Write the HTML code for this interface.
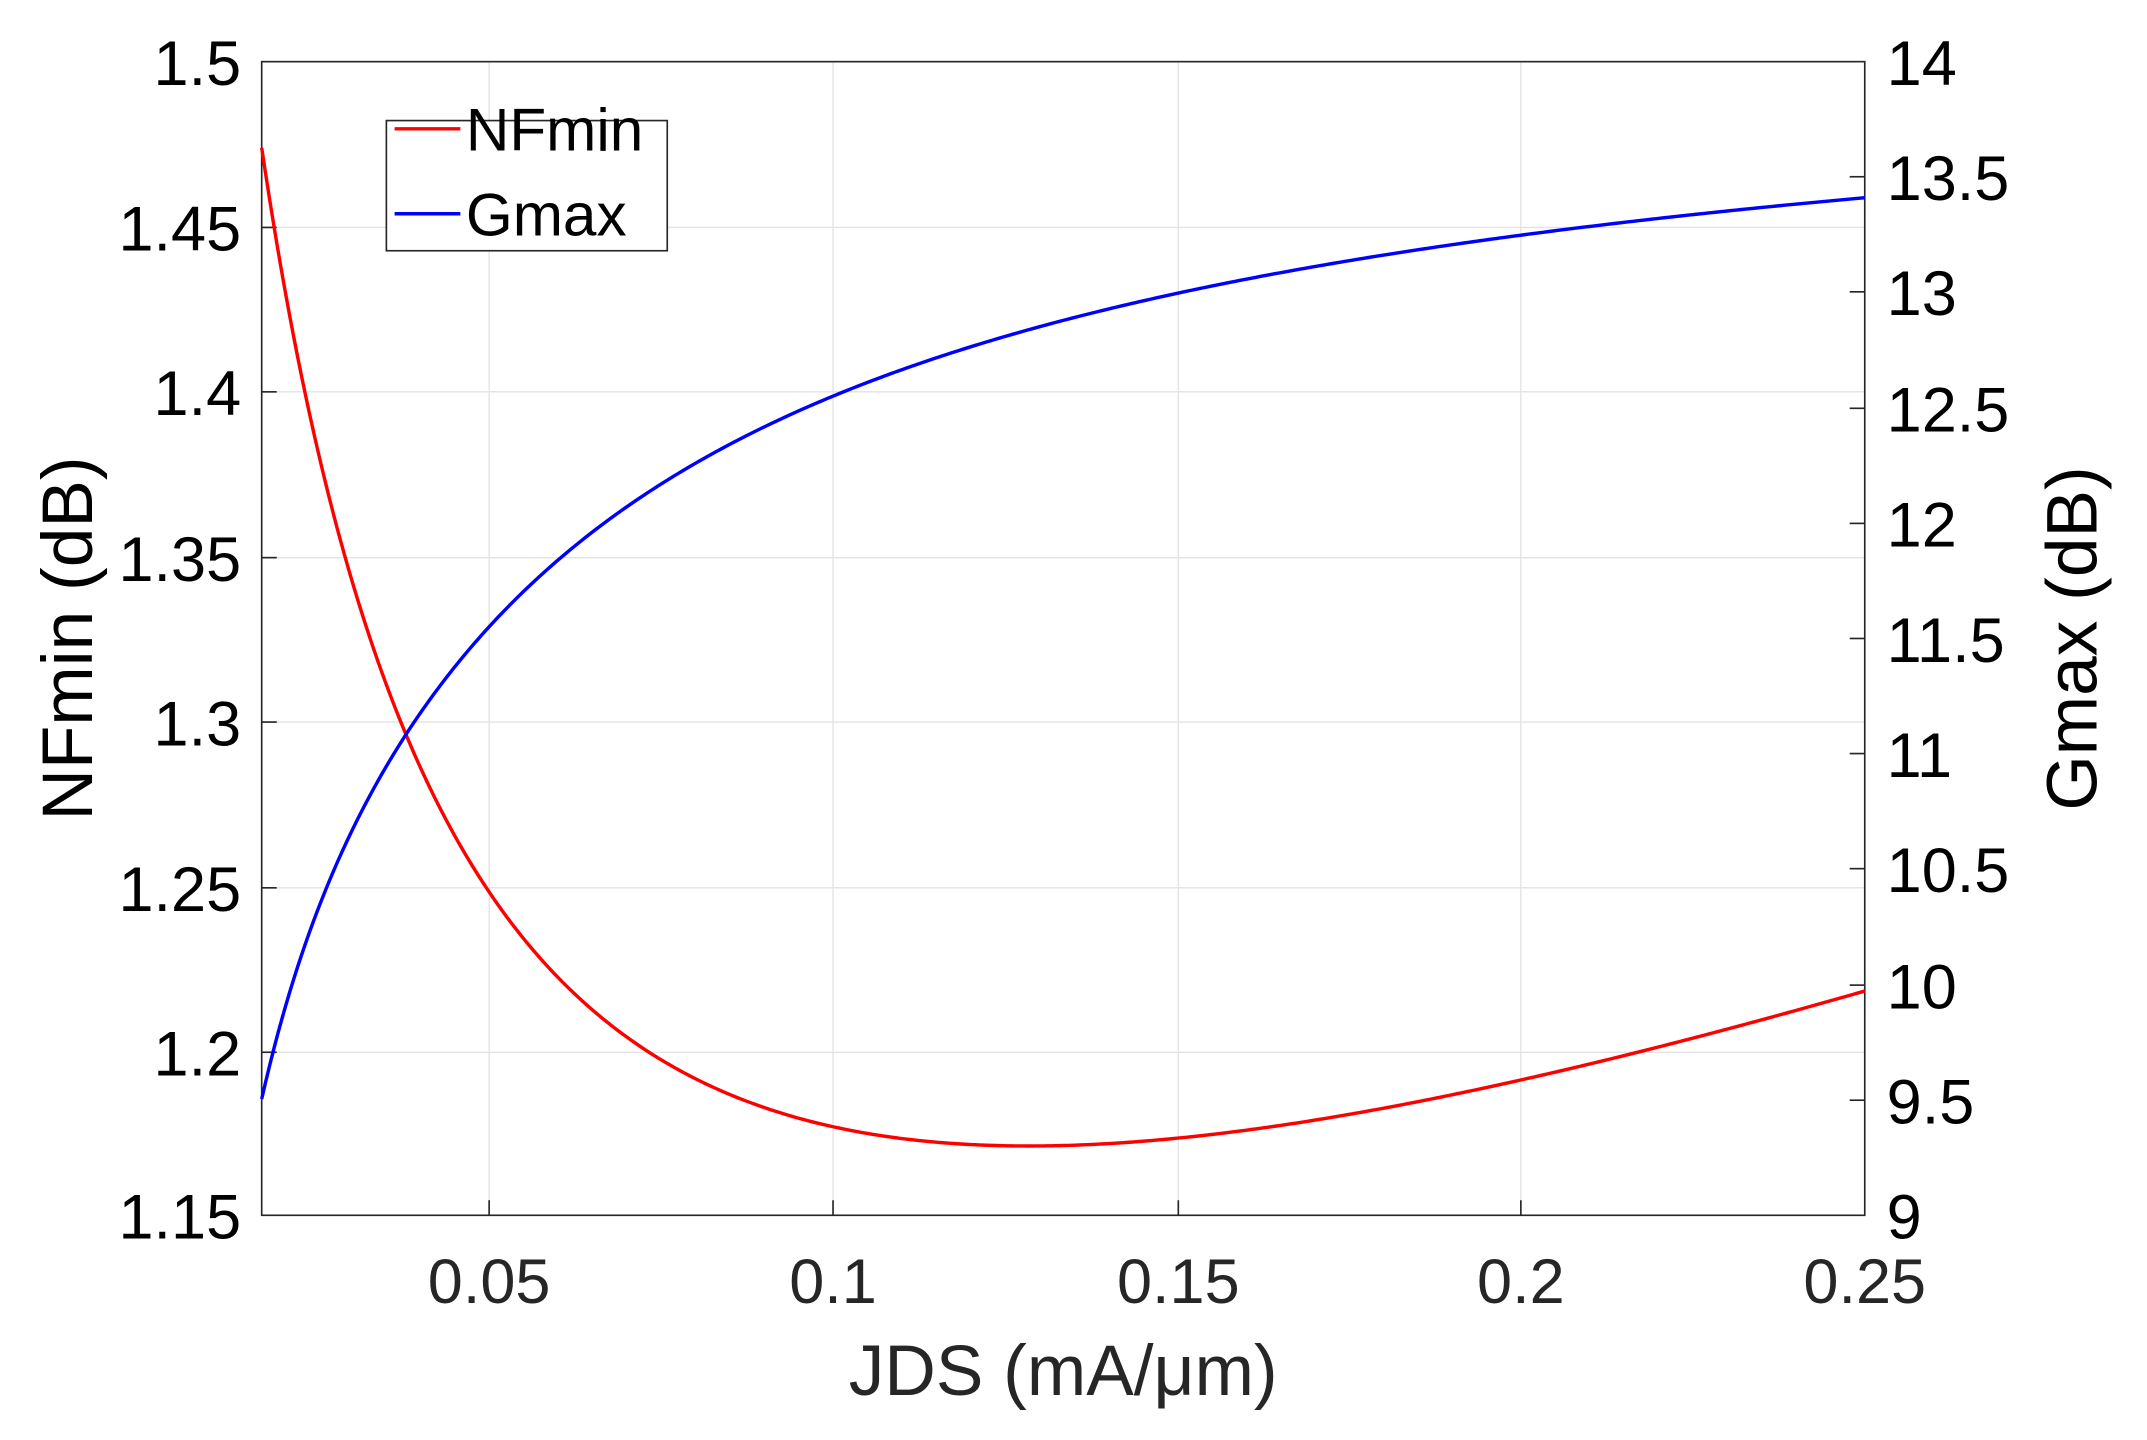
<!DOCTYPE html>
<html><head><meta charset="utf-8"><style>html,body{margin:0;padding:0;background:#fff}svg{display:block}</style></head>
<body>
<svg width="2147" height="1440" viewBox="0 0 1567 1051" preserveAspectRatio="none" font-family="Liberation Sans, Arial, sans-serif">
<rect width="1567" height="1051" fill="#fff"/>
<g stroke="#e3e3e3" stroke-width="1">
<line x1="357" y1="45" x2="357" y2="887"/><line x1="608" y1="45" x2="608" y2="887"/><line x1="860" y1="45" x2="860" y2="887"/><line x1="1110" y1="45" x2="1110" y2="887"/>
<line x1="191" y1="166" x2="1361" y2="166"/><line x1="191" y1="286" x2="1361" y2="286"/><line x1="191" y1="407" x2="1361" y2="407"/><line x1="191" y1="527" x2="1361" y2="527"/><line x1="191" y1="648" x2="1361" y2="648"/><line x1="191" y1="768" x2="1361" y2="768"/>
</g>
<rect x="191" y="45" width="1170" height="842" fill="none" stroke="#262626" stroke-width="1.2"/>
<g stroke="#262626" stroke-width="1.2">
<line x1="191" y1="166" x2="202" y2="166"/><line x1="191" y1="286" x2="202" y2="286"/><line x1="191" y1="407" x2="202" y2="407"/><line x1="191" y1="527" x2="202" y2="527"/><line x1="191" y1="648" x2="202" y2="648"/><line x1="191" y1="768" x2="202" y2="768"/>
<line x1="357" y1="887" x2="357" y2="876"/><line x1="608" y1="887" x2="608" y2="876"/><line x1="860" y1="887" x2="860" y2="876"/><line x1="1110" y1="887" x2="1110" y2="876"/>
<line x1="1350" y1="803" x2="1361" y2="803"/><line x1="1350" y1="719" x2="1361" y2="719"/><line x1="1350" y1="634" x2="1361" y2="634"/><line x1="1350" y1="550" x2="1361" y2="550"/><line x1="1350" y1="466" x2="1361" y2="466"/><line x1="1350" y1="382" x2="1361" y2="382"/><line x1="1350" y1="298" x2="1361" y2="298"/><line x1="1350" y1="213" x2="1361" y2="213"/><line x1="1350" y1="129" x2="1361" y2="129"/>
</g>
<g font-size="46" fill="#000" text-anchor="end">
<text x="176" y="62">1.5</text><text x="176" y="183">1.45</text><text x="176" y="303">1.4</text><text x="176" y="424">1.35</text><text x="176" y="544">1.3</text><text x="176" y="665">1.25</text><text x="176" y="785">1.2</text><text x="176" y="904">1.15</text>
</g>
<g font-size="46" fill="#000" text-anchor="start">
<text x="1377" y="904">9</text><text x="1377" y="820">9.5</text><text x="1377" y="736">10</text><text x="1377" y="651">10.5</text><text x="1377" y="567">11</text><text x="1377" y="483">11.5</text><text x="1377" y="399">12</text><text x="1377" y="315">12.5</text><text x="1377" y="230">13</text><text x="1377" y="146">13.5</text><text x="1377" y="62">14</text>
</g>
<g font-size="46" fill="#262626" text-anchor="middle">
<text x="357" y="951">0.05</text><text x="608" y="951">0.1</text><text x="860" y="951">0.15</text><text x="1110" y="951">0.2</text><text x="1361" y="951">0.25</text>
</g>
<text x="776" y="1018" font-size="52" fill="#262626" text-anchor="middle">JDS (mA/μm)</text>
<text transform="translate(67,466) rotate(-90)" font-size="52" fill="#000" text-anchor="middle">NFmin (dB)</text>
<text transform="translate(1530,466) rotate(-90)" font-size="52" fill="#000" text-anchor="middle">Gmax (dB)</text>
<path id="nf" fill="none" stroke="#ff0000" stroke-width="2.5" d=""/>
<path id="gm" fill="none" stroke="#0000ff" stroke-width="2.5" d=""/>
<rect x="282" y="88" width="205" height="95" fill="#fff" stroke="#262626" stroke-width="1.2"/>
<line x1="288" y1="94" x2="336" y2="94" stroke="#ff0000" stroke-width="2.5"/>
<line x1="288" y1="156" x2="336" y2="156" stroke="#0000ff" stroke-width="2.5"/>
<text x="340" y="110" font-size="44" fill="#000">NFmin</text>
<text x="340" y="172" font-size="44" fill="#000">Gmax</text>
</svg>
<script>
var a="",b="";
for(var i=0;i<=400;i++){
 var x=0.017+0.233*i/400;
 var px=(191+(x-0.017)/0.233*1170).toFixed(2);
 var F=0.9365+0.0183/(x+0.018)+0.853*x;
 var G=14.158-0.2097/(x+0.0304)-0.23*Math.exp(-(x-0.017)/0.006);
 var fy=(887-(F-1.15)/0.05*120.3).toFixed(2);
 var gy=(887-(G-9)/0.5*84.2).toFixed(2);
 a+=(i?" L":"M")+px+","+fy; b+=(i?" L":"M")+px+","+gy;
}
document.getElementById("nf").setAttribute("d",a);
document.getElementById("gm").setAttribute("d",b);
</script>
</body></html>
